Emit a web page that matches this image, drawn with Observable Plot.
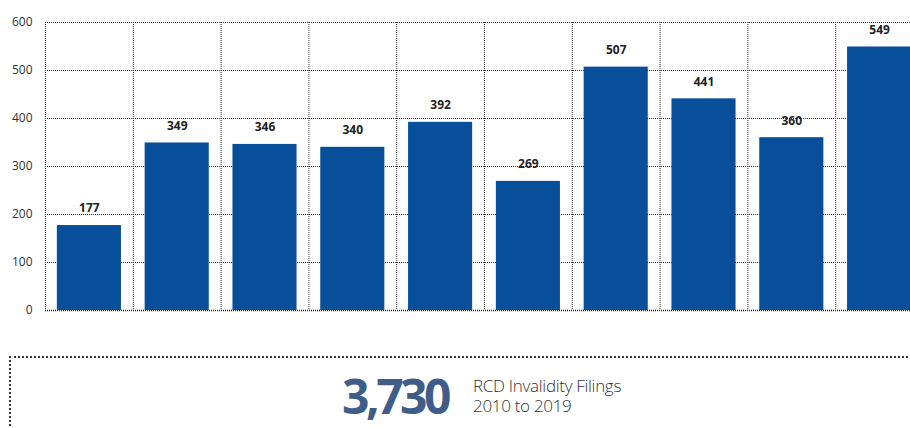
<!DOCTYPE html>
<html>
<head>
<meta charset="utf-8">
<script src="https://cdn.jsdelivr.net/npm/d3@7"></script>
<script src="https://cdn.jsdelivr.net/npm/@observablehq/plot@0.6"></script>
<style>
  html, body { margin: 0; padding: 0; background: #fff; overflow: hidden; width: 910px; height: 428px; }
  #wrap { position: relative; width: 910px; height: 428px; overflow: hidden; }
  #chart { position: absolute; left: 0; top: 0; }
  #box { position: absolute; left: 9px; top: 356px; width: 905px; height: 80px;
         border-top: 2px dotted #333; border-left: 2px dotted #333; }
  #total { position: absolute; left: 342px; top: 372px; font-family: "Open Sans", sans-serif;
           font-weight: 700; font-size: 48px; color: #3f5d88; letter-spacing: -3.5px; line-height: 48px; height: 46px; white-space: nowrap; }
  .lbl { position: absolute; left: 473px; font-family: "Open Sans", sans-serif;
         font-weight: 300; font-size: 17px; color: #333; letter-spacing: -0.3px; line-height: 17px; height: 17px; white-space: nowrap; }
</style>
</head>
<body>
<div id="wrap">
  <div id="chart"></div>
  <div id="box"></div>
  <div id="total"></div>
  <div class="lbl" id="l1" style="top:377px"></div>
  <div class="lbl" id="l2" style="top:397px"></div>
</div>
<script>
const years = ["2010","2011","2012","2013","2014","2015","2016","2017","2018","2019"];
const filings = [177, 349, 346, 340, 392, 269, 507, 441, 360, 549];
const yTicks = [0, 100, 200, 300, 400, 500, 600];
const totalText = "3,730";
const labelLines = ["RCD Invalidity Filings", "2010 to 2019"];

const data = years.map((y, i) => ({year: y, value: filings[i]}));
const W = 910, ML = 45, XR = 923;
const step = (XR - ML) / years.length;

const chart = Plot.plot({
  width: W,
  height: 320,
  marginLeft: ML,
  marginRight: 0,
  marginTop: 22,
  marginBottom: 10,
  style: {fontFamily: "Open Sans, sans-serif", background: "transparent"},
  x: {domain: years, range: [ML, XR], paddingInner: 0.27, paddingOuter: 0.135, round: false, axis: null},
  y: {domain: [0, 600], ticks: yTicks, tickSize: 0, tickPadding: 13, label: null},
  marks: [
    Plot.ruleY(yTicks.filter(d => d > 0), {stroke: "#333", strokeDasharray: "1,1", strokeWidth: 1}),
    Plot.ruleX(years, {x: d => d, dx: -step / 2, stroke: "#333", strokeDasharray: "1,1", strokeWidth: 1}),
    Plot.barY(data, {x: "year", y: "value", fill: "#074f9b"}),
    Plot.ruleY([0], {stroke: "#222", strokeDasharray: "1,1", strokeWidth: 1.3}),
    Plot.text(data, {x: "year", y: "value", text: d => String(d.value), dy: -17,
      fontWeight: 700, fontSize: 12, fill: "#222"}),
    Plot.axisY({ticks: yTicks, tickSize: 0, tickPadding: 13, fontSize: 12, fill: "#333", label: null})
  ]
});
document.getElementById("chart").appendChild(chart);
document.getElementById("total").textContent = totalText;
document.getElementById("l1").textContent = labelLines[0];
document.getElementById("l2").textContent = labelLines[1];
</script>
</body>
</html>
